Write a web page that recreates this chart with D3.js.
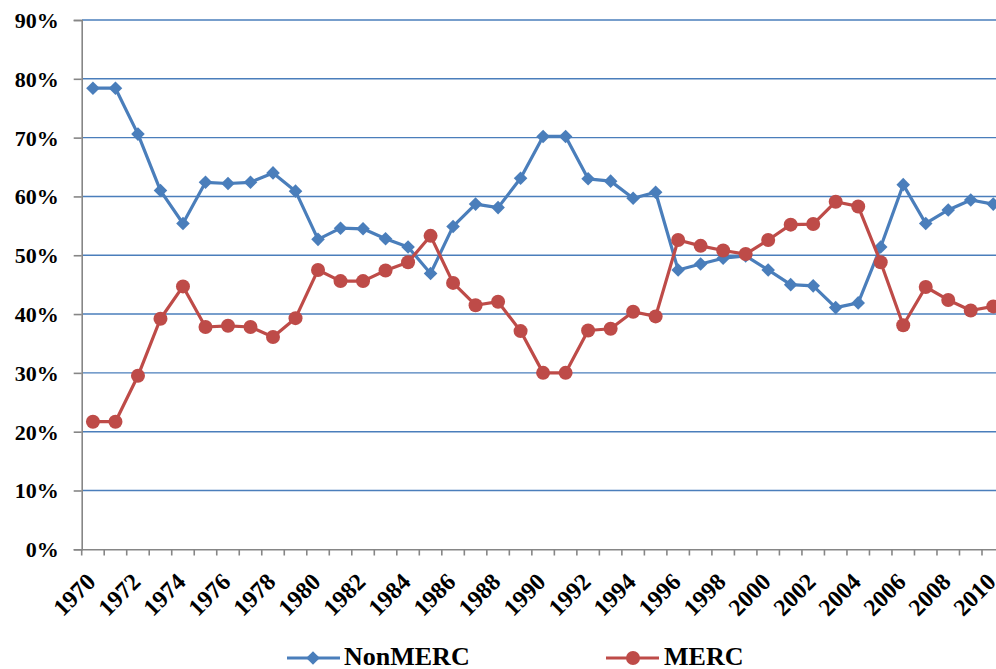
<!DOCTYPE html>
<html>
<head>
<meta charset="utf-8">
<script src="https://cdn.jsdelivr.net/npm/d3@7"></script>
<style>
  body { margin: 0; background: #fff; }
  svg { display: block; }
  text { font-family: "Liberation Serif", "Times New Roman", serif; font-weight: bold; fill: #000; }
</style>
</head>
<body>
<div id="chart"></div>
<script>
var years = d3.range(1970, 2011);
var nonMerc = [78.4, 78.4, 70.6, 61.0, 55.4, 62.4, 62.2, 62.4, 64.0, 60.9,
               52.7, 54.6, 54.5, 52.8, 51.4, 46.9, 54.9, 58.7, 58.1, 63.1,
               70.2, 70.2, 63.0, 62.6, 59.7, 60.7, 47.5, 48.5, 49.5, 49.9,
               47.5, 45.0, 44.8, 41.1, 41.9, 51.4, 62.0, 55.4, 57.7, 59.4, 58.7];
var merc = [21.7, 21.7, 29.5, 39.2, 44.7, 37.8, 38.0, 37.8, 36.1, 39.3,
            47.5, 45.6, 45.6, 47.4, 48.8, 53.3, 45.3, 41.5, 42.1, 37.1,
            30.0, 30.0, 37.2, 37.5, 40.4, 39.6, 52.6, 51.6, 50.8, 50.2,
            52.6, 55.2, 55.3, 59.1, 58.3, 48.8, 38.1, 44.6, 42.4, 40.6, 41.3];
var yTicks = [0, 10, 20, 30, 40, 50, 60, 70, 80, 90];
var xLabels = years.filter(d => (d - 1970) % 2 === 0);

var width = 996, height = 669;
var blue = "#4a7ebb", red = "#be4b48";

var svg = d3.select("#chart")
    .append("svg")
    .attr("width", width)
    .attr("height", height);

var xScale = d3.scaleBand()
    .domain(years)
    .range([81.7, 1004.5]);

var yScale = d3.scaleLinear()
    .domain([0, 90])
    .range([549.3, 20]);

// gridlines
svg.append("g")
    .selectAll("line")
    .data(yTicks.filter(d => d > 0))
    .enter().append("line")
    .attr("x1", 82)
    .attr("x2", 1010)
    .attr("y1", d => yScale(d))
    .attr("y2", d => yScale(d))
    .attr("stroke", blue)
    .attr("stroke-width", 1.4);

// y axis
var yAxis = svg.append("g")
    .attr("transform", "translate(81.7,0)")
    .call(d3.axisLeft(yScale).tickValues(yTicks).tickSize(8).tickPadding(15)
        .tickFormat(d => d + "%"));
yAxis.select(".domain").attr("stroke", "#868686").attr("stroke-width", 1.6);
yAxis.selectAll(".tick line").attr("stroke", "#868686").attr("stroke-width", 1.6);
yAxis.selectAll(".tick text").attr("font-size", 22).attr("dy", "0.34em");

// x axis
var xAxis = svg.append("g")
    .attr("transform", "translate(0,549.3)")
    .call(d3.axisBottom(xScale).tickValues(xLabels).tickSize(0).tickSizeOuter(0));
xAxis.select(".domain").attr("stroke", "#868686").attr("stroke-width", 1.6);
xAxis.selectAll(".tick text")
    .attr("font-size", 24)
    .attr("text-anchor", "end")
    .attr("y", 0)
    .attr("dy", 0)
    .attr("transform", "translate(4,34) rotate(-45)");

svg.append("g")
    .selectAll("line")
    .data(years)
    .enter().append("line")
    .attr("x1", d => xScale(d))
    .attr("x2", d => xScale(d))
    .attr("y1", 549.3)
    .attr("y2", 555.5)
    .attr("stroke", "#868686")
    .attr("stroke-width", 1.6);

var line = d3.line()
    .x((d, i) => xScale(years[i]) + xScale.bandwidth() / 2)
    .y(d => yScale(d));

var diamond = "M0,-6.8L6.8,0L0,6.8L-6.8,0Z";

// NonMERC
svg.append("path")
    .datum(nonMerc)
    .attr("fill", "none")
    .attr("stroke", blue)
    .attr("stroke-width", 3.2)
    .attr("stroke-linejoin", "round")
    .attr("d", line);

svg.selectAll(".dia")
    .data(nonMerc)
    .enter().append("path")
    .attr("class", "dia")
    .attr("d", diamond)
    .attr("transform", (d, i) => "translate(" + (xScale(years[i]) + xScale.bandwidth() / 2) + "," + yScale(d) + ")")
    .attr("fill", blue);

// MERC
svg.append("path")
    .datum(merc)
    .attr("fill", "none")
    .attr("stroke", red)
    .attr("stroke-width", 3.2)
    .attr("stroke-linejoin", "round")
    .attr("d", line);

svg.selectAll(".dot")
    .data(merc)
    .enter().append("circle")
    .attr("class", "dot")
    .attr("cx", (d, i) => xScale(years[i]) + xScale.bandwidth() / 2)
    .attr("cy", d => yScale(d))
    .attr("r", 7)
    .attr("fill", red);

// legend
var legend = svg.append("g");
legend.append("line")
    .attr("x1", 287).attr("x2", 340).attr("y1", 658).attr("y2", 658)
    .attr("stroke", blue).attr("stroke-width", 3.2);
legend.append("path")
    .attr("d", diamond)
    .attr("transform", "translate(313,658)")
    .attr("fill", blue);
legend.append("text")
    .attr("x", 344).attr("y", 665)
    .attr("font-size", 26)
    .text("NonMERC");

legend.append("line")
    .attr("x1", 606).attr("x2", 659).attr("y1", 658).attr("y2", 658)
    .attr("stroke", red).attr("stroke-width", 3.2);
legend.append("circle")
    .attr("cx", 633).attr("cy", 658).attr("r", 7)
    .attr("fill", red);
legend.append("text")
    .attr("x", 664).attr("y", 665)
    .attr("font-size", 26)
    .text("MERC");
</script>
</body>
</html>
